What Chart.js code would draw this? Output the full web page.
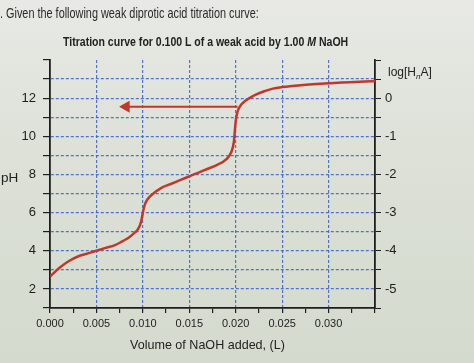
<!DOCTYPE html>
<html>
<head>
<meta charset="utf-8">
<script src="https://cdn.jsdelivr.net/npm/chart.js@4.4.0/dist/chart.umd.min.js"></script>
<style>
  html, body { margin: 0; padding: 0; }
  body {
    width: 474px; height: 363px; position: relative; overflow: hidden;
    background: linear-gradient(180deg, #e8e9e5 0%, #dde1d8 40%, #d4dacd 100%);
    font-family: "Liberation Sans", Arial, sans-serif; color: #222;
  }
  #wrap { position: absolute; left: 0; top: 0; width: 474px; height: 363px; }
  .lbl { position: absolute; white-space: nowrap; transform-origin: left center; }
  #intro { left: 0; top: 5px; font-size: 14.5px; color: #2a2a2a; transform: scaleX(0.75); }
  #title { left: 63px; top: 34px; font-size: 13.5px; font-weight: bold; transform: scaleX(0.78); }
  #phlbl { left: 1px; top: 170px; font-size: 13.5px; }
  #xlbl { left: 130px; top: 337px; font-size: 13.5px; transform: scaleX(0.93); }
  #loglbl { left: 388px; top: 65px; font-size: 12px; }
  #loglbl sub { font-size: 8px; font-style: italic; }
</style>
</head>
<body>
<div id="wrap"><canvas id="myChart" width="474" height="363"></canvas></div>
<div class="lbl" id="intro">. Given the following weak diprotic acid titration curve:</div>
<div class="lbl" id="title">Titration curve for 0.100 L of a weak acid by 1.00 <i>M</i> NaOH</div>
<div class="lbl" id="phlbl">pH</div>
<div class="lbl" id="xlbl">Volume of NaOH added, (L)</div>
<div class="lbl" id="loglbl">log[H<sub>n</sub>A]</div>
<script>
// titration curve
const volumeL = [0.000, 0.001, 0.002, 0.003, 0.004, 0.005, 0.006, 0.007, 0.008, 0.0085, 0.009,
  0.0095, 0.0098, 0.010, 0.0102, 0.0105, 0.011, 0.012, 0.013, 0.014, 0.015, 0.016, 0.017,
  0.018, 0.019, 0.0195, 0.0198, 0.020, 0.0202, 0.0205, 0.021, 0.022, 0.023, 0.024, 0.025,
  0.027, 0.030, 0.035];
const pH = [2.65, 3.1, 3.45, 3.7, 3.85, 4.0, 4.15, 4.3, 4.55, 4.7, 4.9,
  5.15, 5.5, 6.0, 6.4, 6.7, 6.95, 7.3, 7.5, 7.7, 7.9, 8.1, 8.3,
  8.5, 8.8, 9.15, 9.7, 10.8, 11.3, 11.6, 11.85, 12.15, 12.35, 12.5, 12.58,
  12.68, 12.78, 12.9];

// red arrow (from the curve leftwards)
const arrowX = [0.0202, 0.0082];
const arrowY = [11.55, 11.55];

const xTickLabels = ['0.000', '0.005', '0.010', '0.015', '0.020', '0.025', '0.030'];
const pHTickLabels = [2, 4, 6, 8, 10, 12];
const logTickLabels = [-5, -4, -3, -2, -1, 0];

const red = '#c2372c';
const gridBlue = 'rgba(55, 95, 205, 0.85)';
const ink = '#1e1e1e';

const toPoints = (xs, ys) => xs.map((x, i) => ({ x: x, y: ys[i] }));

const ctx = document.getElementById('myChart').getContext('2d');
const myChart = new Chart(ctx, {
  type: 'scatter',
  data: {
    datasets: [{
      label: 'pH',
      data: toPoints(volumeL, pH),
      showLine: true,
      borderColor: red,
      borderWidth: 2.5,
      pointRadius: 0,
      cubicInterpolationMode: 'monotone',
      yAxisID: 'y'
    }, {
      label: 'arrow',
      data: toPoints(arrowX, arrowY),
      showLine: true,
      borderColor: red,
      backgroundColor: red,
      borderWidth: 2,
      pointRadius: [0, 5],
      pointStyle: 'triangle',
      rotation: -90,
      yAxisID: 'y'
    }]
  },
  options: {
    responsive: false,
    animation: false,
    events: [],
    layout: { padding: { top: 60, left: 0, right: 0, bottom: 0 } },
    plugins: { legend: { display: false }, tooltip: { enabled: false } },
    scales: {
      x: {
        type: 'linear',
        min: 0, max: 0.035,
        afterFit: (scale) => { scale.height = 55; },
        afterBuildTicks: (scale) => {
          scale.ticks = [];
          for (let i = 0; i <= 14; i++) scale.ticks.push({ value: i * 0.0025 });
        },
        ticks: {
          color: ink,
          font: { family: 'Liberation Sans', size: 11 },
          maxRotation: 0,
          autoSkip: false,
          padding: 4,
          callback: (v) => {
            const i = Math.round(v * 10000);
            return (i % 50 === 0) ? xTickLabels[i / 50] || '' : '';
          }
        },
        grid: {
          color: (c) => {
            const i = Math.round(c.tick.value * 10000);
            return (i % 50 === 0 && i > 0 && i < 350) ? gridBlue : 'rgba(0,0,0,0)';
          },
          lineWidth: 1.2,
          tickColor: ink,
          tickLength: 5
        },
        border: { color: ink, width: 1.8, dash: [3, 2] }
      },
      y: {
        type: 'linear',
        position: 'left',
        min: 1, max: 14,
        afterFit: (scale) => { scale.width = 50; },
        afterBuildTicks: (scale) => {
          scale.ticks = [];
          for (let v = 1; v <= 14; v++) scale.ticks.push({ value: v });
        },
        ticks: {
          color: ink,
          font: { family: 'Liberation Sans', size: 13 },
          padding: 7,
          autoSkip: false,
          callback: (v) => pHTickLabels.includes(v) ? String(v) : ''
        },
        grid: {
          color: (c) => (c.tick.value > 1 && c.tick.value < 14) ? gridBlue : 'rgba(0,0,0,0)',
          lineWidth: 1.2,
          tickColor: ink,
          tickLength: 7
        },
        border: { color: ink, width: 1.8, dash: [3, 2] }
      },
      y2: {
        type: 'linear',
        position: 'right',
        min: -5.5, max: 1,
        afterFit: (scale) => { scale.width = 99; },
        afterBuildTicks: (scale) => {
          scale.ticks = [];
          for (let i = 0; i <= 13; i++) scale.ticks.push({ value: -5.5 + i * 0.5 });
        },
        ticks: {
          color: ink,
          font: { family: 'Liberation Sans', size: 13 },
          padding: 4,
          autoSkip: false,
          callback: (v) => logTickLabels.includes(v) ? String(v) : ''
        },
        grid: {
          drawOnChartArea: false,
          tickColor: ink,
          tickLength: 6
        },
        border: { color: ink, width: 1.8 }
      }
    }
  }
});
</script>
</body>
</html>
